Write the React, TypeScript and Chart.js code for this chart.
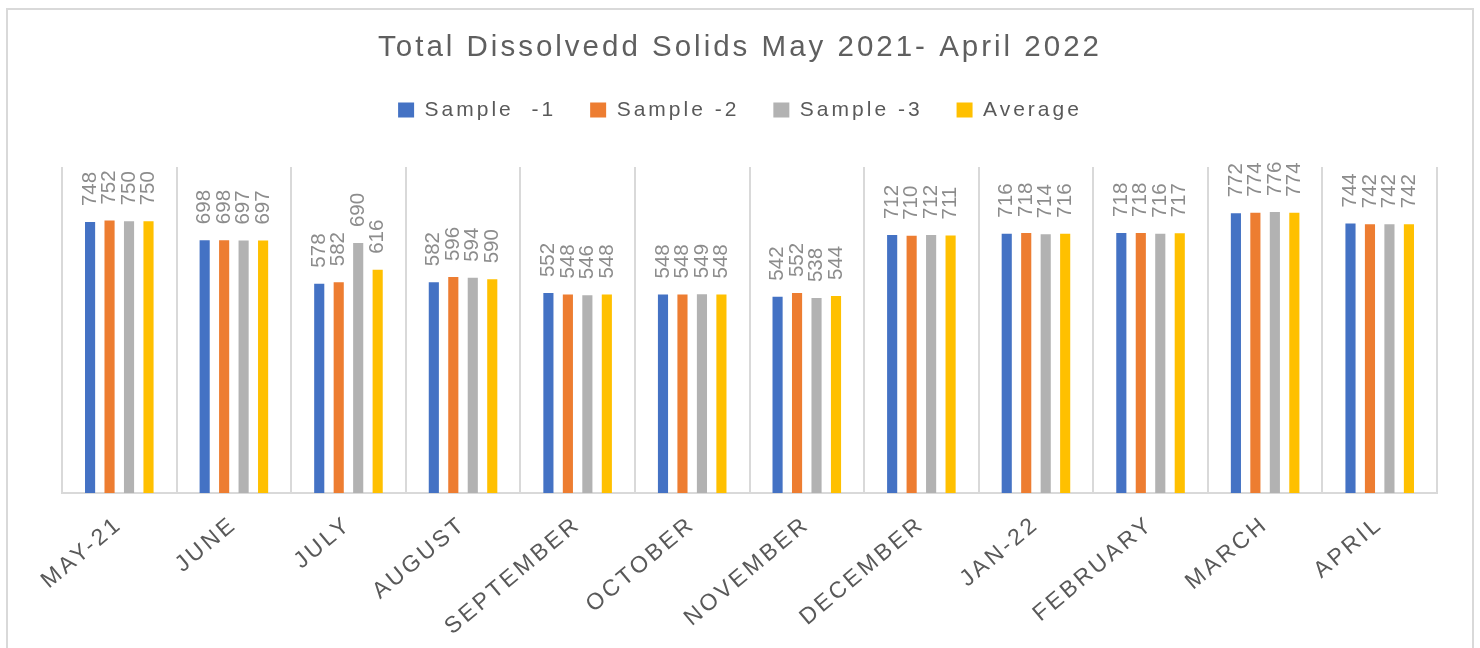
import React, { useEffect, useRef } from 'react';
import { Chart, registerables } from 'chart.js';

Chart.register(...registerables);

const months = ['MAY-21', 'JUNE', 'JULY', 'AUGUST', 'SEPTEMBER', 'OCTOBER', 'NOVEMBER', 'DECEMBER', 'JAN-22', 'FEBRUARY', 'MARCH', 'APRIL'];
const sample1 = [748, 698, 578, 582, 552, 548, 542, 712, 716, 718, 772, 744];
const sample2 = [752, 698, 582, 596, 548, 548, 552, 710, 718, 718, 774, 742];
const sample3 = [750, 697, 690, 594, 546, 549, 538, 712, 714, 716, 776, 742];
const average = [750, 697, 616, 590, 548, 548, 544, 711, 716, 717, 774, 742];
const seriesNames = ['Sample  -1', 'Sample -2', 'Sample -3', 'Average'];
const seriesColors = ['#4472C4', '#ED7D31', '#B2B2B2', '#FFC000'];
const chartTitle = 'Total Dissolvedd Solids May 2021- April 2022';
const yMin = 0;
const yMax = 900;

const FONT = "'Liberation Sans', Arial, sans-serif";
const SPACING = '3px';

const framePlugin = {
  id: 'frame',
  beforeLayout(chart: any) {
    chart.ctx.letterSpacing = SPACING;
  },
  beforeDraw(chart: any) {
    const ctx = chart.ctx;
    ctx.letterSpacing = SPACING;
    ctx.save();
    ctx.fillStyle = '#ffffff';
    ctx.fillRect(0, 0, chart.width, chart.height);
    ctx.strokeStyle = '#d9d9d9';
    ctx.lineWidth = 2;
    ctx.strokeRect(7, 9, 1466, chart.height + 20);
    ctx.restore();
  },
};

const barLabelPlugin = {
  id: 'barLabels',
  afterDatasetsDraw(chart: any) {
    const ctx = chart.ctx;
    ctx.save();
    ctx.letterSpacing = '0px';
    ctx.font = `20.5px ${FONT}`;
    ctx.fillStyle = '#8c8c8c';
    ctx.textAlign = 'left';
    ctx.textBaseline = 'middle';
    chart.data.datasets.forEach((ds: any, di: number) => {
      const meta = chart.getDatasetMeta(di);
      meta.data.forEach((bar: any, i: number) => {
        ctx.save();
        ctx.translate(bar.x, bar.y - 16);
        ctx.rotate(-Math.PI / 2);
        ctx.fillText(String(ds.data[i]), 0, 0);
        ctx.restore();
      });
    });
    ctx.restore();
  },
};

export default function App() {
  const canvasRef = useRef<HTMLCanvasElement | null>(null);

  useEffect(() => {
    const canvas = canvasRef.current;
    if (!canvas) return;
    const seriesData = [sample1, sample2, sample3, average];
    const chart = new Chart(canvas, {
      type: 'bar',
      data: {
        labels: months,
        datasets: seriesNames.map((name, i) => ({
          label: name,
          data: seriesData[i],
          backgroundColor: seriesColors[i],
          borderWidth: 0,
          categoryPercentage: 0.68,
          barPercentage: 0.52,
          yAxisID: 'y',
        })),
      },
      options: {
        responsive: false,
        animation: false,
        layout: { padding: 0 },
        plugins: {
          title: {
            display: true,
            text: chartTitle,
            color: '#5f5f5f',
            font: { family: FONT, size: 29.5, weight: 'normal', lineHeight: 1 },
            padding: { top: 33, bottom: 3 },
          },
          subtitle: {
            display: true,
            text: ' ',
            weight: 500,
            font: { family: FONT, size: 10, lineHeight: 1 },
            padding: { top: 26.5, bottom: 0 },
          } as any,
          legend: {
            position: 'top',
            labels: {
              boxWidth: 16,
              boxHeight: 15,
              padding: 34,
              color: '#595959',
              font: { family: FONT, size: 21 },
            },
          },
          tooltip: { enabled: false },
        },
        scales: {
          x: {
            grid: { offset: true, color: '#d9d9d9', lineWidth: 2, drawTicks: false },
            border: { color: '#d9d9d9', width: 2 },
            ticks: {
              color: '#595959',
              font: { family: FONT, size: 23 },
              minRotation: 40,
              maxRotation: 40,
              autoSkip: false,
              padding: 18,
            },
            afterFit: (s: any) => {
              s.height = 155;
            },
          },
          y: {
            min: yMin,
            max: yMax,
            grid: { display: false },
            border: { display: false },
            ticks: { display: false },
            afterFit: (s: any) => {
              s.width = 62;
            },
          },
          y2: {
            position: 'right',
            min: yMin,
            max: yMax,
            grid: { display: false },
            border: { display: false },
            ticks: { display: false },
            afterFit: (s: any) => {
              s.width = 43;
            },
          },
        },
      } as any,
      plugins: [framePlugin, barLabelPlugin],
    });
    return () => chart.destroy();
  }, []);

  return (
    <div style={{ position: 'fixed', left: 0, top: 0, width: 1480, height: 648, background: '#fff' }}>
      <canvas ref={canvasRef} width={1480} height={648} style={{ display: 'block' }} />
    </div>
  );
}
